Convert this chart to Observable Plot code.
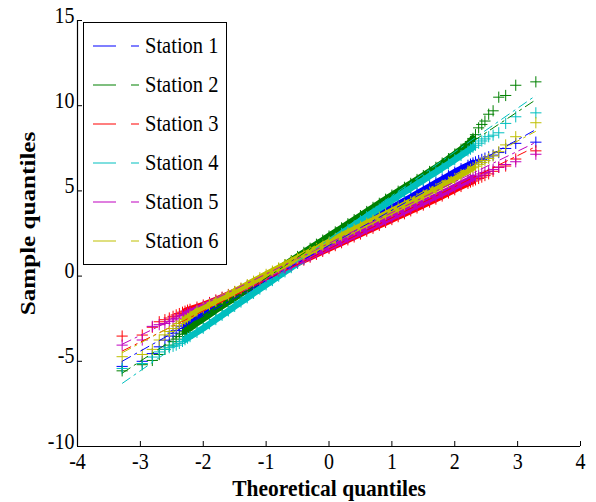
<!DOCTYPE html>
<html><head><meta charset="utf-8">
<script src="https://cdn.jsdelivr.net/npm/d3@7"></script>
<script src="https://cdn.jsdelivr.net/npm/@observablehq/plot@0.6"></script>
<style>
html,body{margin:0;padding:0;background:#fff;}
#chart{position:relative;width:596px;height:502px;}
#legend{position:absolute;left:83px;top:22px;width:144px;height:243px;border:1.5px solid #000;background:#fff;box-sizing:border-box;font-family:"Liberation Serif","Times New Roman",serif;font-size:20.5px;color:#000;padding-top:3px;}
#legend .row{height:39px;display:flex;align-items:center;}
#legend svg{margin-left:8px;margin-right:5px;}
#legend span{display:inline-block;transform:scaleY(1.17);}
</style></head><body><div id="chart"></div>
<script>
const stations = ["Station 1","Station 2","Station 3","Station 4","Station 5","Station 6"];
const colors = ["#0000ff","#008000","#ff0000","#00bfbf","#bf00bf","#bfbf00"];
const xTicks = [-4,-3,-2,-1,0,1,2,3,4];
const yTicks = [-10,-5,0,5,10,15];

// theoretical quantiles (shared)
const theoretical = [-3.29,-2.97,-2.81,-2.70,-2.61,-2.54,-2.48,-2.43,-2.38,-2.33,-2.29,-2.25,-2.21,
 -2.1,-2.0,-1.9,-1.8,-1.7,-1.6,-1.5,-1.4,-1.3,-1.2,-1.1,-1.0,-0.9,-0.8,-0.7,-0.6,-0.5,-0.4,-0.3,-0.2,-0.1,0,
 0.1,0.2,0.3,0.4,0.5,0.6,0.7,0.8,0.9,1.0,1.1,1.2,1.3,1.4,1.5,1.6,1.7,1.8,1.9,2.0,2.1,
 2.21,2.25,2.29,2.33,2.38,2.43,2.48,2.54,2.61,2.70,2.81,2.97,3.29];

const station1 = [-5.3,-5.0,-4.55,-4.15,-3.76,-3.52,-3.35,-3.2,-3.08,-2.97,-2.88,-2.8,-2.72,
 -2.5,-2.28,-2.07,-1.86,-1.65,-1.44,-1.23,-1.02,-0.81,-0.6,-0.39,-0.18,0.03,0.24,0.45,0.66,0.87,1.08,1.29,1.5,1.7,1.9,
 2.11,2.32,2.53,2.74,2.95,3.16,3.37,3.58,3.79,4.0,4.21,4.42,4.63,4.84,5.05,5.26,5.47,5.68,5.89,6.1,6.3,
 6.5,6.57,6.64,6.7,6.78,6.85,6.92,7.0,7.1,7.25,7.49,7.79,7.86];
const station2 = [-5.56,-5.2,-4.95,-4.6,-4.3,-4.05,-3.85,-3.7,-3.55,-3.4,-3.27,-3.15,-3.05,
 -2.75,-2.5,-2.25,-2.0,-1.76,-1.52,-1.28,-1.03,-0.78,-0.53,-0.29,-0.05,0.19,0.43,0.67,0.91,1.15,1.39,1.63,1.87,2.11,2.35,
 2.59,2.83,3.07,3.31,3.55,3.79,4.03,4.27,4.51,4.75,4.98,5.21,5.44,5.67,5.9,6.14,6.38,6.63,6.89,7.16,7.44,
 7.75,7.9,8.08,8.3,8.7,8.9,9.1,9.5,9.7,10.5,10.6,11.2,11.4];
const station3 = [-3.52,-3.46,-3.0,-2.68,-2.56,-2.46,-2.36,-2.28,-2.2,-2.12,-2.06,-2.0,-1.95,
 -1.82,-1.7,-1.55,-1.4,-1.24,-1.08,-0.92,-0.76,-0.59,-0.42,-0.25,-0.08,0.09,0.26,0.43,0.6,0.77,0.94,1.11,1.28,1.45,1.62,
 1.79,1.96,2.13,2.3,2.47,2.64,2.81,2.98,3.15,3.32,3.49,3.66,3.83,4.0,4.17,4.34,4.52,4.7,4.88,5.07,5.26,
 5.45,5.52,5.58,5.65,5.73,5.81,5.9,6.0,6.15,6.38,6.46,6.87,7.35];
const station4 = [-5.42,-5.13,-4.75,-4.45,-4.3,-4.2,-4.12,-4.05,-3.95,-3.83,-3.73,-3.64,-3.55,
 -3.3,-3.06,-2.8,-2.55,-2.3,-2.04,-1.78,-1.52,-1.27,-1.01,-0.76,-0.51,-0.26,0.0,0.25,0.5,0.75,1.0,1.25,1.5,1.75,2.0,
 2.25,2.5,2.75,3.0,3.25,3.49,3.73,3.97,4.21,4.45,4.69,4.93,5.16,5.4,5.63,5.87,6.1,6.34,6.58,6.83,7.08,
 7.35,7.45,7.56,7.68,7.8,7.93,8.05,8.18,8.27,8.41,8.96,9.35,9.58];
const station5 = [-4.05,-3.75,-2.95,-2.85,-2.78,-2.67,-2.57,-2.48,-2.4,-2.32,-2.25,-2.18,-2.12,
 -1.95,-1.78,-1.61,-1.44,-1.27,-1.1,-0.93,-0.76,-0.58,-0.41,-0.23,-0.05,0.12,0.3,0.47,0.65,0.83,1.0,1.18,1.35,1.53,1.7,
 1.87,2.05,2.22,2.4,2.57,2.75,2.92,3.1,3.27,3.45,3.62,3.8,3.97,4.15,4.32,4.5,4.68,4.86,5.04,5.23,5.42,
 5.62,5.7,5.77,5.84,5.92,6.0,6.08,6.16,6.26,6.4,6.55,6.71,7.15];
const station6 = [-4.73,-4.6,-4.3,-3.75,-3.45,-3.25,-3.08,-2.92,-2.78,-2.65,-2.55,-2.45,-2.35,
 -2.05,-1.86,-1.67,-1.48,-1.29,-1.1,-0.9,-0.7,-0.5,-0.3,-0.1,0.1,0.29,0.48,0.67,0.86,1.05,1.24,1.43,1.62,1.81,2.0,
 2.19,2.38,2.56,2.74,2.92,3.1,3.28,3.46,3.64,3.82,4.0,4.18,4.36,4.55,4.74,4.93,5.12,5.32,5.52,5.73,5.95,
 6.18,6.27,6.36,6.45,6.56,6.67,6.78,6.9,7.05,7.3,7.7,8.18,9.0];

// reference (quartile-fit) line values at the smallest and largest theoretical quantile
const refLow  = [-5.0,-5.7,-4.4,-6.3,-4.0,-4.5];
const refHigh = [8.6,10.35,7.6,10.6,7.85,8.5];

const series = [station1,station2,station3,station4,station5,station6];
const rows = [];
series.forEach((ys,si)=>ys.forEach((y,i)=>rows.push({station:stations[si],x:theoretical[i],y})));
const xMin = d3.min(theoretical), xMax = d3.max(theoretical);
const lines = stations.map((s,i)=>({station:s,x1:xMin,x2:xMax,y1:refLow[i],y2:refHigh[i]}));

const font = '"Liberation Serif","Times New Roman",serif';
const marks = [];
stations.forEach(s=>{
  const d = rows.filter(r=>r.station===s);
  // dense body of the point cloud (where the markers merge into a band)
  marks.push(Plot.line(d.filter(r=>Math.abs(r.x)<=2.3),{x:"x",y:"y",stroke:"station",strokeWidth:6.5}));
  marks.push(Plot.dot(d,{x:"x",y:"y",stroke:"station",symbol:"plus",r:3.7,strokeWidth:1}));
});
marks.push(Plot.link(lines,{x1:"x1",y1:"y1",x2:"x2",y2:"y2",stroke:"station",strokeWidth:1,strokeDasharray:"10,4,3,4"}));
marks.push(Plot.ruleX([-4],{stroke:"#000",strokeWidth:1.2}));
marks.push(Plot.ruleY([-10],{stroke:"#000",strokeWidth:1.2}));
marks.push(Plot.tickX(xTicks,{x:d=>d,insetTop:421,stroke:"#000"}));
marks.push(Plot.tickY(yTicks,{y:d=>d,insetRight:498,stroke:"#000"}));
marks.push(Plot.axisX(xTicks,{tickSize:0,tickPadding:7,tickFormat:d=>String(d),label:null}));
marks.push(Plot.axisY(yTicks,{tickSize:0,tickPadding:3,dy:-5,tickFormat:d=>String(d),label:null}));
marks.push(Plot.text(["Theoretical quantiles"],{frameAnchor:"bottom",dy:49,textAnchor:"middle",text:d=>d,fontWeight:"bold",fontSize:21.5}));
marks.push(Plot.text(["Sample quantiles"],{frameAnchor:"left",dx:-49,dy:-10,textAnchor:"middle",rotate:-90,text:d=>d,fontWeight:"bold",fontSize:21.5}));

const chart = Plot.plot({
  width:596,height:502,
  marginLeft:77,marginRight:16,marginTop:20,marginBottom:56,
  style:{fontFamily:font,fontSize:"20px",background:"#fff",color:"#000",overflow:"visible"},
  x:{domain:[-4,4]},
  y:{domain:[-10,15]},
  color:{domain:stations,range:colors},
  marks
});
// the original figure's lettering is drawn taller than wide: stretch glyphs vertically
chart.querySelectorAll("text").forEach(t=>{
  const tr = t.getAttribute("transform") || "";
  t.setAttribute("transform", tr + (tr.includes("rotate") ? " scale(1.17,1)" : " scale(1,1.12)"));
});
const host = document.getElementById("chart");
host.appendChild(chart);

const legend = document.createElement("div");
legend.id = "legend";
stations.forEach((s,i)=>{
  const row = document.createElement("div");
  row.className = "row";
  row.innerHTML = `<svg width="48" height="10"><line x1="1" y1="5" x2="47" y2="5" stroke="${colors[i]}" stroke-width="1.2" stroke-dasharray="23,15,8,20"/></svg><span>${s}</span>`;
  legend.appendChild(row);
});
host.appendChild(legend);
</script></body></html>
